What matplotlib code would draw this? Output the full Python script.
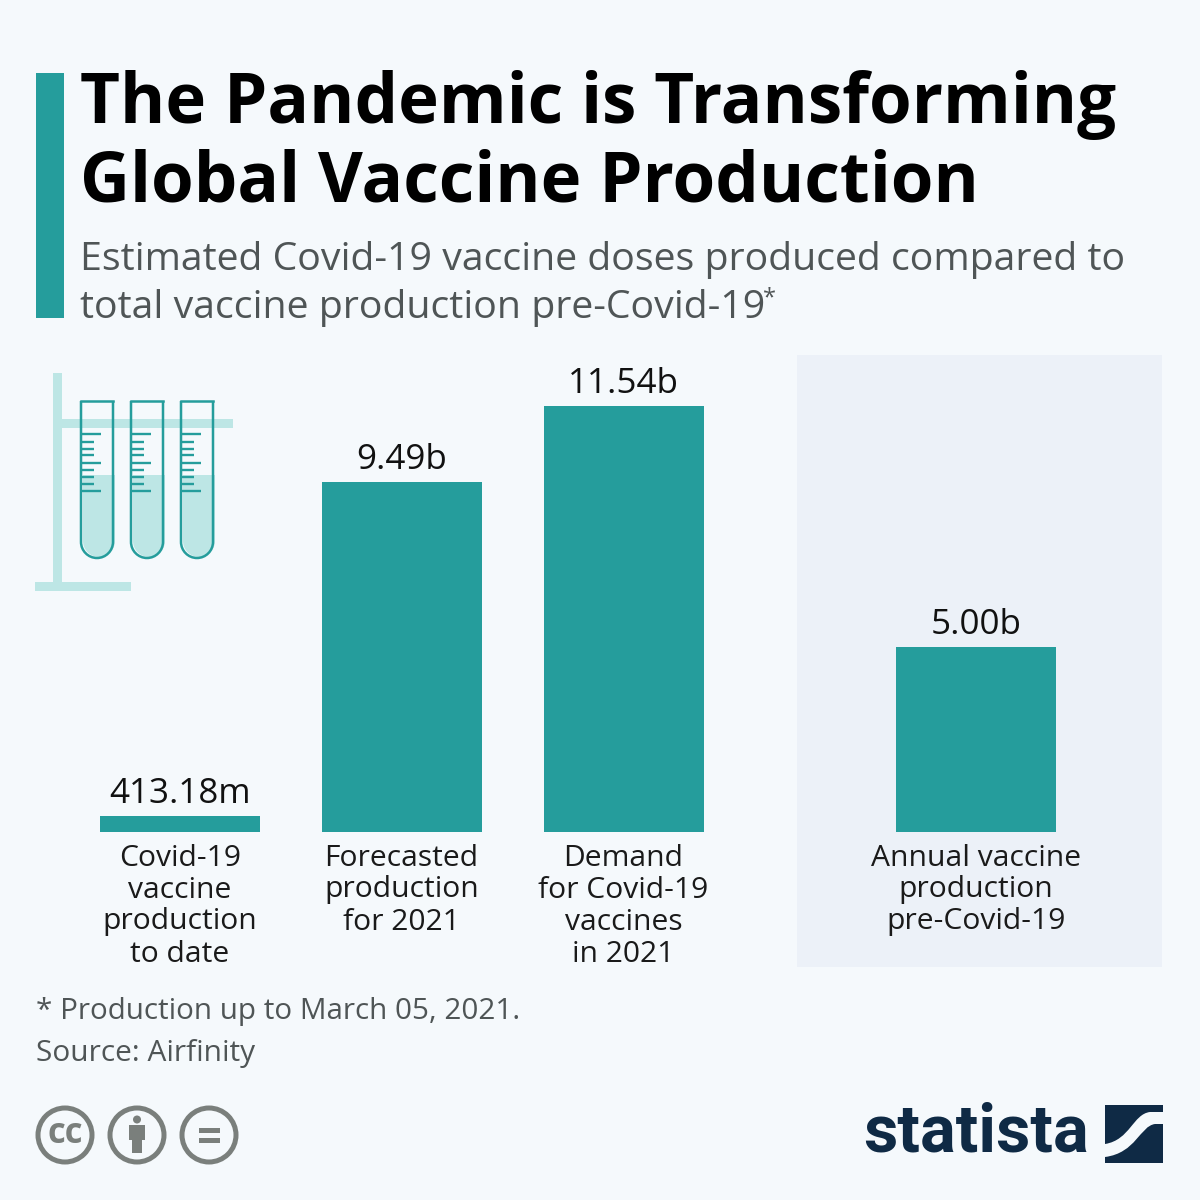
import matplotlib
matplotlib.use("Agg")
import matplotlib.pyplot as plt
from matplotlib.patches import Rectangle, Circle, PathPatch
from matplotlib.path import Path

plt.rcParams['font.family'] = ['Open Sans', 'DejaVu Sans']

categories = ["Covid-19\nvaccine\nproduction\nto date",
              "Forecasted\nproduction\nfor 2021",
              "Demand\nfor Covid-19\nvaccines\nin 2021",
              "Annual vaccine\nproduction\npre-Covid-19"]
values = [0.41318, 9.49, 11.54, 5.00]
value_labels = ["413.18m", "9.49b", "11.54b", "5.00b"]

title = "The Pandemic is Transforming\nGlobal Vaccine Production"
subtitle = ["Estimated Covid-19 vaccine doses produced compared to",
            "total vaccine production pre-Covid-19"]
footnote = "* Production up to March 05, 2021."
source = "Source: Airfinity"

BG = "#F5F9FC"
TEAL = "#259D9C"
LIGHT = "#BDE6E5"
PANEL = "#ECF1F8"
GREY = "#4F5556"
ICON = "#7A7F7C"
NAVY = "#0F2A45"

fig = plt.figure(figsize=(12, 12), dpi=100, facecolor=BG)

# overlay in pixel coordinates, for everything that isn't a bar
bg = fig.add_axes([0, 0, 1, 1])
bg.set_xlim(0, 1200)
bg.set_ylim(1200, 0)
bg.axis("off")

# shaded panel behind the last bar
bg.add_patch(Rectangle((797, 355), 365, 612, fc=PANEL, ec="none"))

# header
bg.add_patch(Rectangle((36, 73), 28, 245, fc=TEAL, ec="none"))
bg.text(80, 105, title.split("\n")[0], fontsize=49.7, fontweight="bold", color="black", va="center")
bg.text(80, 183, title.split("\n")[1], fontsize=49.7, fontweight="bold", color="black", va="center")
bg.text(80, 260, subtitle[0], fontsize=28.25, color=GREY, va="center")
bg.text(80, 308, subtitle[1], fontsize=28.25, color=GREY, va="center")
bg.text(763, 298, "*", fontsize=17, color=GREY, va="center")

# test tube icon
bg.add_patch(Rectangle((53, 373), 9, 217, fc=LIGHT, ec="none"))
bg.add_patch(Rectangle((35, 582), 96, 9, fc=LIGHT, ec="none"))
bg.add_patch(Rectangle((62, 419), 171, 9, fc=LIGHT, ec="none"))

tube_tick_y = [434, 442, 449, 455, 463, 470, 477, 484, 491]
tube_tick_long = [True, False, False, False, True, False, False, False, True]


def tube_path(x0, x1, top, bottom):
    r = (x1 - x0) / 2
    k = 0.55 * r
    verts = [(x0, top), (x0, bottom - r),
             (x0, bottom - r + k), (x0 + r - k, bottom), (x0 + r, bottom),
             (x0 + r + k, bottom), (x1, bottom - r + k), (x1, bottom - r),
             (x1, top)]
    codes = [Path.MOVETO, Path.LINETO,
             Path.CURVE4, Path.CURVE4, Path.CURVE4,
             Path.CURVE4, Path.CURVE4, Path.CURVE4,
             Path.LINETO]
    return Path(verts, codes)


for x in [81, 131, 181]:
    bg.add_patch(PathPatch(tube_path(x + 2, x + 34, 475, 557), fc=LIGHT, ec="none"))
    bg.add_patch(PathPatch(tube_path(x, x + 32, 401, 558), fc="none", ec=TEAL, lw=1.8,
                           capstyle="butt"))
    bg.plot([x, x + 32], [401, 401], color=TEAL, lw=1.8, solid_capstyle="projecting")
    for ty, is_long in zip(tube_tick_y, tube_tick_long):
        bg.plot([x, x + (20 if is_long else 13)], [ty, ty], color=TEAL, lw=1.7, solid_capstyle="butt")

# the bars
ax = fig.add_axes([0, (1200 - 831.5) / 1200, 1, 476 / 1200])
ax.patch.set_alpha(0)
ax.axis("off")
ax.set_xlim(0, 1200)
ax.set_ylim(0, 476 / 36.83)
bar_x = [180, 401.5, 623.5, 976]
ax.bar(bar_x, values, width=160, color=TEAL)

for x, v, lab in zip(bar_x, values, value_labels):
    ax.annotate(lab, (x, v), xytext=(0, 5), textcoords="offset pixels", ha="center", va="bottom",
                fontsize=25.2, color="#111111")

line_gap = 32
for x, cat in zip(bar_x, categories):
    for i, line in enumerate(cat.split("\n")):
        bg.text(x, 858 + i * line_gap, line, ha="center", va="center",
                fontsize=21.6, color="#1A1A1A")

# footer
bg.text(36, 1012, footnote, fontsize=21.3, color=GREY, va="center")
bg.text(36, 1053, source, fontsize=21.5, color=GREY, va="center")

# licence icons
for cx in [65, 137, 209]:
    bg.add_patch(Circle((cx, 1135), 27, fc="none", ec=ICON, lw=3.6))
bg.text(65, 1134, "cc", fontsize=25, fontweight="bold", color=ICON, ha="center", va="center")
bg.add_patch(Circle((137, 1119.5), 4, fc=ICON, ec="none"))
bg.add_patch(Rectangle((129, 1125), 16, 15, fc=ICON, ec="none"))
bg.add_patch(Rectangle((132, 1125), 10, 28, fc=ICON, ec="none"))
bg.add_patch(Rectangle((199, 1128), 21, 5, fc=ICON, ec="none"))
bg.add_patch(Rectangle((199, 1138), 21, 5, fc=ICON, ec="none"))

# statista logo
bg.text(976, 1133, "statista", fontsize=48, fontweight="bold", color=NAVY, ha="center", va="center",
        family=["Roboto", "Open Sans"])
upper = Path([(1105, 1105), (1163, 1105), (1163, 1112), (1150, 1112),
              (1133, 1114), (1130, 1140), (1105, 1144), (1105, 1105)],
             [Path.MOVETO, Path.LINETO, Path.LINETO, Path.LINETO,
              Path.CURVE4, Path.CURVE4, Path.CURVE4, Path.CLOSEPOLY])
lower = Path([(1163, 1124), (1155, 1124), (1140, 1126), (1136, 1153), (1105, 1157),
              (1105, 1163), (1163, 1163), (1163, 1124)],
             [Path.MOVETO, Path.LINETO, Path.CURVE4, Path.CURVE4, Path.CURVE4,
              Path.LINETO, Path.LINETO, Path.CLOSEPOLY])
bg.add_patch(PathPatch(upper, fc=NAVY, ec="none"))
bg.add_patch(PathPatch(lower, fc=NAVY, ec="none"))

fig.savefig("out.png", dpi=100, facecolor=BG)
